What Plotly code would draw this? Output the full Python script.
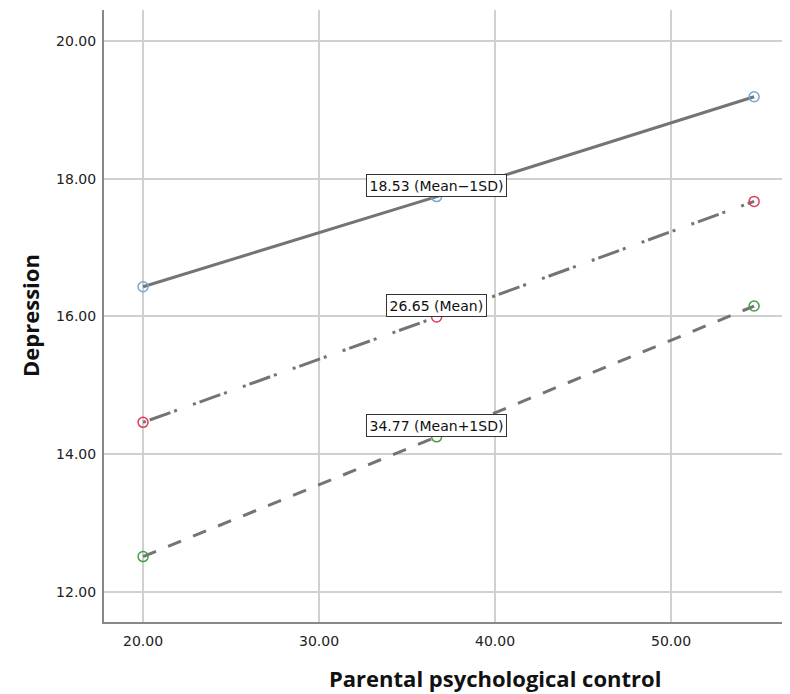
import plotly.graph_objects as go

# Data
x_values = [20.0, 36.68, 54.72]
series_names = ["18.53 (Mean−1SD)", "26.65 (Mean)", "34.77 (Mean+1SD)"]
low_sd = [16.43, 17.74, 19.19]
mean_vals = [14.46, 15.99, 17.67]
high_sd = [12.51, 14.25, 16.15]
x_ticks = [20, 30, 40, 50]
x_tick_labels = ["20.00", "30.00", "40.00", "50.00"]
y_ticks = [12, 14, 16, 18, 20]
y_tick_labels = ["12.00", "14.00", "16.00", "18.00", "20.00"]

series = [low_sd, mean_vals, high_sd]
marker_colors = ["#6FA8DC", "#E0385A", "#45A045"]
dashes = ["solid", "3px,4px,22px,4px,3px,17px", "14px,13px"]

# page is offset by the browser's default 8px body margin
OFF = 8
W, H = 790 - OFF, 694 - OFF
L, T, B, R = 104 - OFF, 10 - OFF, 72, 0
pw = W - L - R
ph = H - T - B

fig = go.Figure()
for name, ys, mc, dash in zip(series_names, series, marker_colors, dashes):
    fig.add_trace(go.Scatter(
        x=x_values, y=ys, mode="lines+markers", name=name,
        line=dict(color="#747474", width=3, dash=dash),
        marker=dict(symbol="circle-open", size=10, color=mc, line=dict(width=1.5, color=mc)),
        showlegend=False,
    ))
    fig.add_annotation(
        x=x_values[1], y=ys[1], xref="x", yref="y", text=name, showarrow=False,
        yanchor="bottom", xanchor="center",
        font=dict(family="DejaVu Sans", size=14, color="#111"),
        bgcolor="white", bordercolor="#333", borderwidth=1, borderpad=2.5,
    )

# axis titles as annotations (positions in page pixels converted to paper fractions)
fig.add_annotation(
    x=(495 - 104) / pw, y=-(678 - 622) / ph, xref="paper", yref="paper",
    text="<b>Parental psychological control</b>", showarrow=False,
    xanchor="center", yanchor="middle",
    font=dict(family="Open Sans", size=22, color="#111"),
)
fig.add_annotation(
    x=-(104 - 30) / pw, y=(622 - 316) / ph, xref="paper", yref="paper",
    text="<b>Depression</b>", textangle=-90, showarrow=False,
    xanchor="center", yanchor="middle",
    font=dict(family="Open Sans", size=22, color="#111"),
)

fig.update_layout(
    width=W, height=H,
    margin=dict(l=L, r=R, t=T, b=B),
    plot_bgcolor="white", paper_bgcolor="white",
    font=dict(family="DejaVu Sans", size=14, color="#222"),
)
fig.update_xaxes(
    range=[17.78, 56.76], tickvals=x_ticks, ticktext=x_tick_labels,
    showgrid=True, gridcolor="#D0D0D0", gridwidth=1.5, zeroline=False,
    showline=True, linecolor="#888", linewidth=2, ticks="", ticklabelstandoff=5,
)
fig.update_yaxes(
    range=[11.56, 20.45], tickvals=y_ticks, ticktext=y_tick_labels,
    showgrid=True, gridcolor="#D0D0D0", gridwidth=1.5, zeroline=False,
    showline=True, linecolor="#888", linewidth=2, ticks="", ticklabelstandoff=3,
)

fig.write_html("out.html")
